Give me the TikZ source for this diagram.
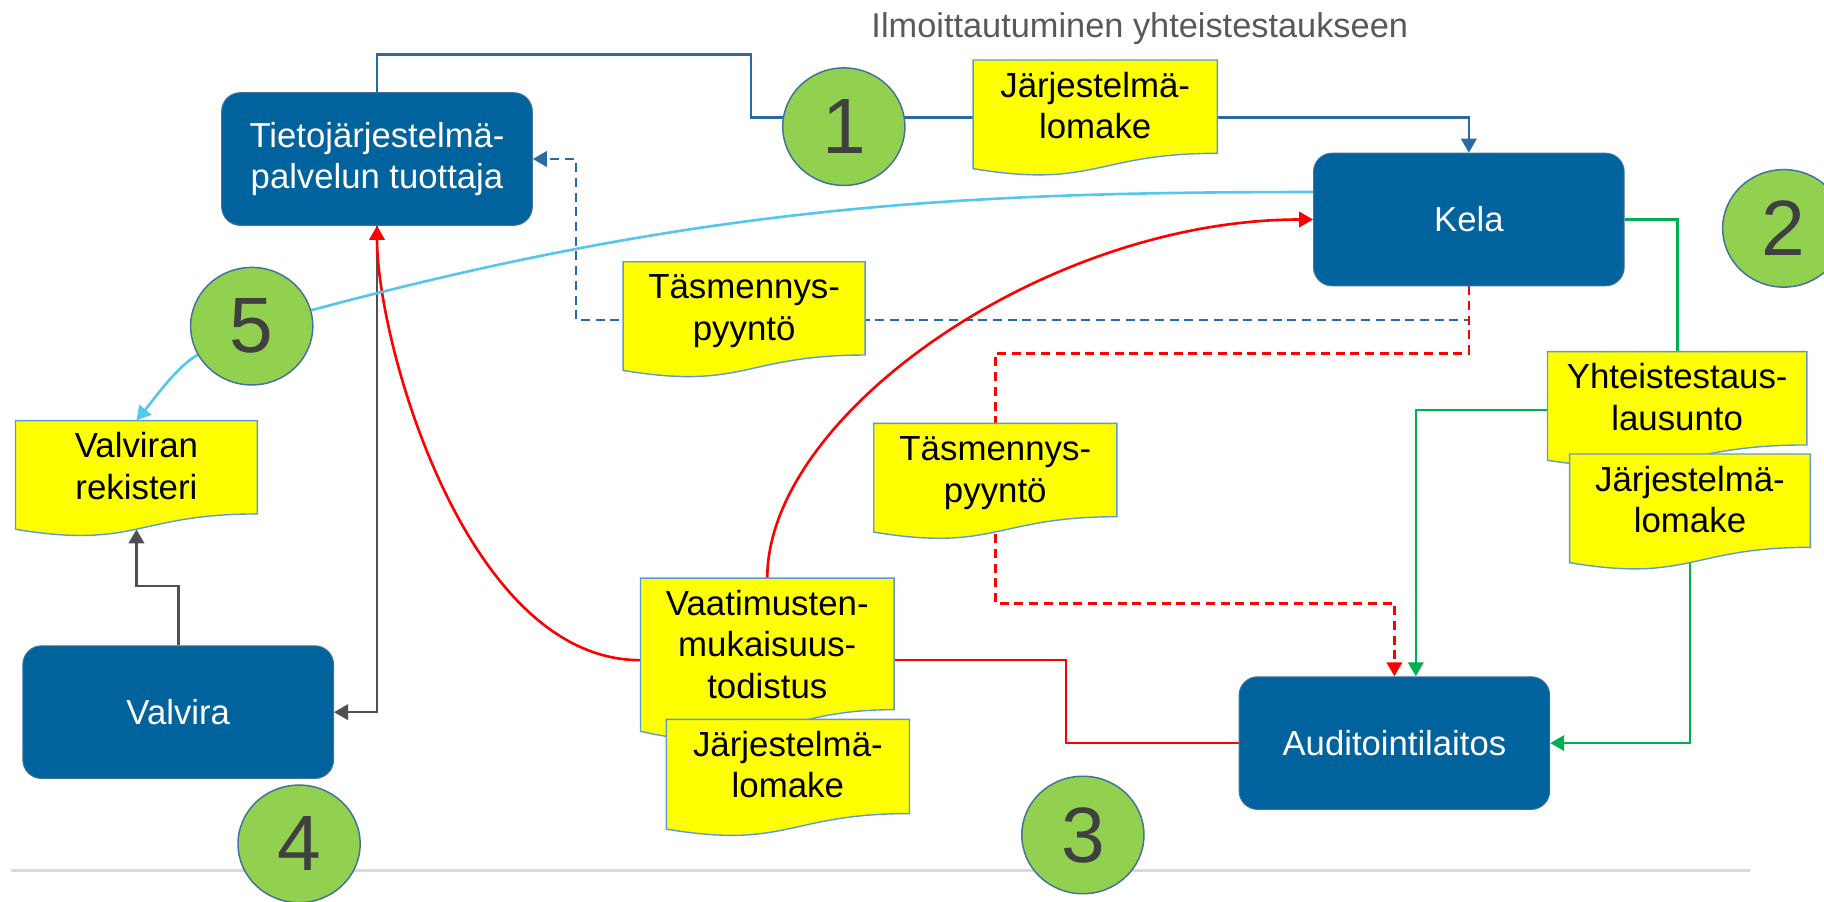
\documentclass[tikz,border=0pt]{standalone}
\usepackage{fontspec}
\setmainfont{Liberation Sans}
\usetikzlibrary{shapes.geometric, arrows.meta, backgrounds}

\definecolor{boxblue}{RGB}{0,99,158}
\definecolor{boxedge}{RGB}{65,113,156}
\definecolor{lineblue}{RGB}{40,106,165}
\definecolor{linered}{RGB}{255,0,0}
\definecolor{linegreen}{RGB}{0,176,80}
\definecolor{linesky}{RGB}{85,198,236}
\definecolor{linegray}{RGB}{80,80,80}
\definecolor{docyellow}{RGB}{255,255,0}
\definecolor{docedge}{RGB}{91,155,213}
\definecolor{numgreen}{RGB}{146,208,80}
\definecolor{numtext}{RGB}{64,64,64}
\definecolor{titlegray}{RGB}{89,89,89}
\definecolor{rulegray}{RGB}{217,217,217}

\tikzset{
    x=0.025cm, y=-0.025cm, % one unit is one pixel of the slide, y runs downwards
    >={Triangle[length=0.3cm, width=0.33cm]}, % small filled heads as on the slide
    party/.style={rectangle, rounded corners=0.4cm, fill=boxblue, draw=boxedge, line width=0.6pt,
        minimum width=6.675cm, minimum height=2.85cm, align=center, text=white,
        font=\fontsize{21.2}{25.6}\selectfont}, % the dark blue actors
    sheetfill/.style={fill=docyellow, draw=docedge, line width=0.85pt}, % yellow paper
    doc/.style 2 args={rectangle, inner sep=0pt, align=center,
        text width=#1*0.025cm, text height=0.8cm, text depth=#2*0.025cm-0.8cm,
        font=\fontsize{21.3}{25.3}\selectfont}, % text of a paper, width and height in pixels
    numball/.style={ellipse, fill=numgreen, draw=boxedge, line width=0.9pt, inner sep=0pt,
        minimum width=2.625cm, minimum height=2.525cm, text=numtext,
        font=\fontsize{48}{48}\selectfont}, % green phase numbers
    flow/.style={line width=1.6pt}, % every connector
    ask/.style={flow, dash pattern=on 5.5pt off 3.5pt}, % requests for clarification
}

% paper with a wavy bottom: name, centre, width, height, text
\newcommand{\sheet}[5]{%
    \filldraw[sheetfill, shift={(#2)}] ({-#3/2},{-#4/2}) -- ({#3/2},{-#4/2}) -- ({#3/2},{0.302*#4})
        .. controls (0,{0.302*#4}) and (0,{0.6075*#4}) .. ({-#3/2},{0.434*#4}) -- cycle;
    \node[doc={#3}{#4}] (#1) at (#2) {#5};
}

\begin{document}
\begin{tikzpicture}
    \useasboundingbox (0,0) rectangle (1568,775);

    \node[party] (tieto) at (324.1,136.7) {Tietojärjestelmä-\\palvelun tuottaja};
    \node[party] (kela) at (1262.7,188.7) {Kela};
    \node[party] (valvira) at (153.2,612.2) {Valvira};
    \node[party] (audit) at (1198.7,638.8) {Auditointilaitos};

    \sheet{lomake1}{941.5,101.6}{210}{100}{Järjestelmä-\\lomake}
    \sheet{pyynto1}{639.7,275}{208}{100}{Täsmennys-\\pyyntö}
    \sheet{rekisteri}{117.3,411.6}{208}{100}{Valviran\\rekisteri}
    \sheet{pyynto2}{855.6,414}{209}{100}{Täsmennys-\\pyyntö}
    \sheet{lausunto}{1441.8,352.3}{223}{100}{Yhteistestaus-\\lausunto}
    \sheet{lomake2}{1452.8,440.3}{207}{100}{Järjestelmä-\\lomake}
    \sheet{todistus}{659.6,567.5}{218}{141}{Vaatimusten-\\mukaisuus-\\todistus}
    \sheet{lomake3}{677.3,668.9}{209}{101}{Järjestelmä-\\lomake}

    \node[numball] (num1) at (725.4,108.9) {1};
    \node[numball] (num2) at (1533.4,196.3) {2};
    \node[numball] (num3) at (930.9,717.8) {3};
    \node[numball] (num4) at (257.1,725.4) {4};
    \node[numball] (num5) at (216.4,280.4) {5};

    \node[anchor=base, text=titlegray, font=\fontsize{21}{25}\selectfont] (title) at (979.8,32.5)
        {Ilmoittautuminen yhteistestaukseen};

    \begin{pgfonlayer}{background}
        \draw[rulegray, line width=1.9pt] (9.4,748) -- (1504.6,748);
        % 1
        \draw[flow, lineblue, ->] (tieto.north) -- ++(0,-32.5) -- ++(321.5,0) -- ++(0,54) -| (kela.north);
        \draw[ask, lineblue, ->] (kela.south) -- ++(0,29) -- ++(-767.7,0) |- (tieto.east);
        \draw[ask, linered, ->] (kela.south) -- ++(0,57.7) -| (pyynto2.center) -- ++(0,104.6) -| (audit.north);
        % 2
        \draw[flow, linegreen] (kela.east) -| (lausunto.north);
        \draw[flow, linegreen, ->] (lausunto.west) -| ([xshift=4.6mm]audit.north);
        \draw[flow, linegreen, ->] (lomake2.center) |- (audit.east);
        % 4
        \draw[flow, linegray, ->] (tieto.south) |- (valvira.east);
        \draw[flow, linegray, ->] (valvira.north) -- ++(0,-51) -| ([yshift=1.7mm]rekisteri.south);
        % 3
        \draw[flow, linered] (todistus.east) -- ++(147.5,0) |- (audit.west);
        \draw[flow, linered, ->] (todistus.west) .. controls +(-150,0) and +(0,100) .. (tieto.south);
        \draw[flow, linered, ->] (todistus.north) .. controls +(0,-140) and +(-230,0) .. (kela.west);
        % 5
        \draw[flow, linesky] (kela.170) .. controls +(-300,0) and +(338,-90.6) .. (num5.15);
        \draw[flow, linesky, ->] (num5.208) .. controls +(-17.7,9.4) and +(12.9,-15.3) .. (rekisteri.north);
    \end{pgfonlayer}
\end{tikzpicture}
\end{document}
